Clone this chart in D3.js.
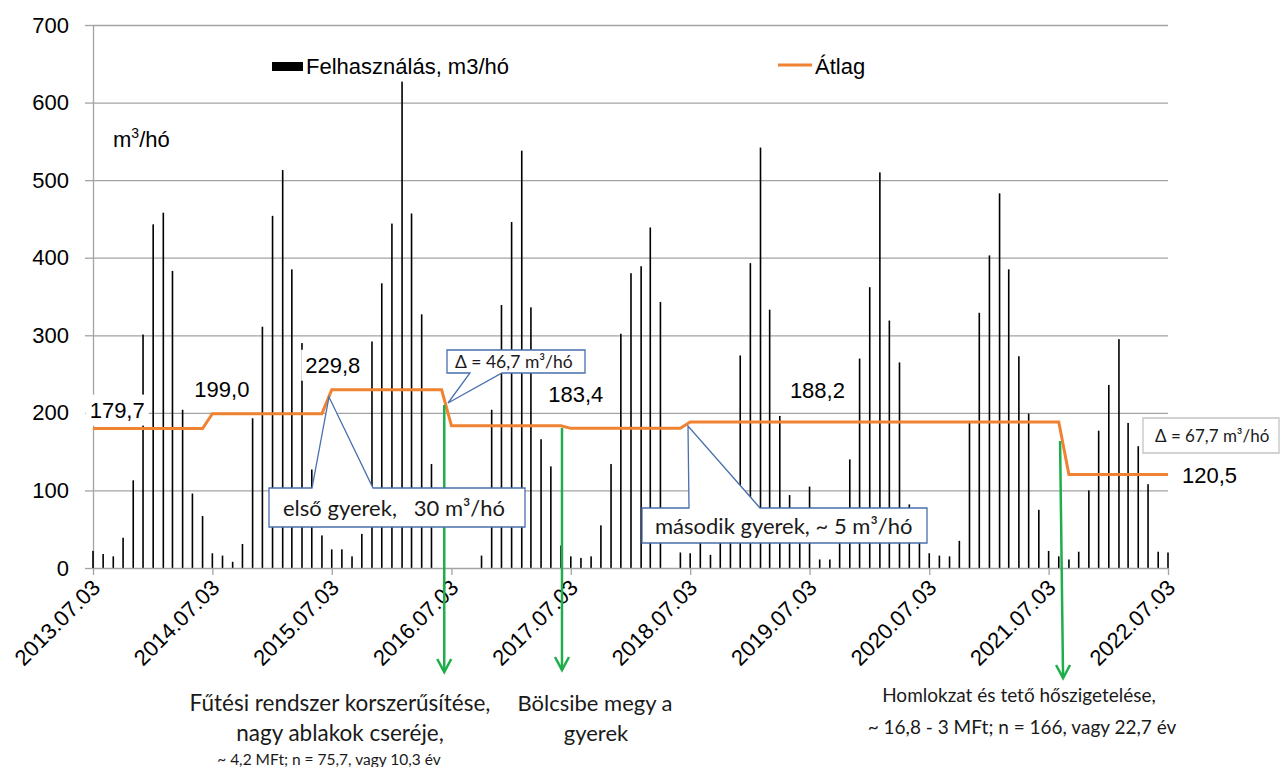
<!DOCTYPE html>
<html>
<head>
<meta charset="utf-8">
<script src="https://cdn.jsdelivr.net/npm/d3@7"></script>
<style>
  body { margin: 0; background: #fff; }
  svg { display: block; }
  .arial { font-family: "Liberation Sans", Arial, sans-serif; fill: #000; }
  .calibri { font-family: Lato, "Open Sans", sans-serif; fill: #1a1a1a; }
</style>
</head>
<body>
<svg id="chart" width="1281" height="767"></svg>
<script>
// Monthly gas readings, taken on the 3rd of each month
const firstReading = "2013.07.03";
const lastReading = "2022.07.03";

// Felhasználás, m3/hó  (null = no reading that month)
const usage = [
  22, 18, 15, 39, 113, 301, 443, 458, 383, 204, 96, 67,        // 2013/14
  19, 16, 8, 31, 193, 311, 454, 513, 385, 290, 127, 42,        // 2014/15
  24, 24, 15, 44, 292, 367, 444, 627, 457, 327, 134, null,     // 2015/16
  null, null, null, 16, 204, 339, 446, 538, 336, 166, 131, 29, // 2016/17
  15, 13, 15, 55, 134, 302, 380, 389, 439, 343, null, 20,      // 2017/18
  19, 40, 17, 45, 65, 274, 393, 542, 333, 196, 94, 50,         // 2018/19
  105, 11, 11, 45, 140, 270, 362, 510, 319, 265, 82, 50,       // 2019/20
  19, 16, 15, 35, 187, 329, 403, 483, 385, 273, 199, 75,       // 2020/21
  22, 15, 11, 21, 100, 177, 236, 295, 187, 157, 108, 21,       // 2021/22
  20                                                           // 2022.07
];

// Átlag: average level of each period, and the month each period starts
const avgPeriodStart = ["2013.07.03", "2014.07.03", "2015.07.03", "2016.07.03", "2017.07.03", "2018.07.03", "2021.09.03"];
const avgLevel = [179.7, 199.0, 229.8, 183.4, 180.0, 188.2, 120.5];
const avgLabel = ["179,7", "199,0", "229,8", "183,4", null, "188,2", "120,5"];

const yTicks = [0, 100, 200, 300, 400, 500, 600, 700];
const xTickLabels = ["2013.07.03", "2014.07.03", "2015.07.03", "2016.07.03", "2017.07.03",
                     "2018.07.03", "2019.07.03", "2020.07.03", "2021.07.03", "2022.07.03"];

const parse = d3.timeParse("%Y.%m.%d");
const fmt = d3.timeFormat("%Y.%m.%d");

const firstMonth = d3.timeMonth.floor(parse(firstReading));
const endMonth = d3.timeMonth.offset(d3.timeMonth.floor(parse(lastReading)), 1);
const months = d3.timeMonth.range(firstMonth, endMonth).map(d => d3.timeDay.offset(d, 2));
const readings = months.map((d, i) => ({ date: d, value: usage[i] }));

const periodStarts = avgPeriodStart.map(parse);
const avgSeries = months.map(d => {
  let k = 0;
  periodStarts.forEach((s, j) => { if (d >= s) k = j; });
  return { date: d, value: avgLevel[k] };
});

const svg = d3.select("#chart");
const plotL = 93, plotR = 1168, plotT = 25, plotB = 568;

const x = d3.scaleTime().domain([parse(firstReading), parse(lastReading)]).range([plotL, plotR]);
const y = d3.scaleLinear().domain([0, 700]).range([plotB, plotT]);

const gridColor = "#a3a3a3";

// horizontal gridlines
svg.append("g")
  .attr("transform", `translate(${plotL},0)`)
  .call(d3.axisLeft(y).tickValues(yTicks.filter(v => v > 0)).tickSize(-(plotR - plotL)).tickFormat(""))
  .call(g => g.select(".domain").remove())
  .call(g => g.selectAll("line").attr("stroke", gridColor).attr("stroke-width", 1.3));

// y axis with labels
svg.append("g")
  .attr("transform", `translate(${plotL},0)`)
  .call(d3.axisLeft(y).tickValues(yTicks).tickSize(8).tickPadding(16).tickSizeOuter(0))
  .call(g => g.select(".domain").attr("stroke", gridColor).attr("stroke-width", 1.3))
  .call(g => g.selectAll("line").attr("stroke", gridColor).attr("stroke-width", 1.3))
  .call(g => g.selectAll("text").attr("class", "arial").attr("font-size", 22).attr("fill", "#000"));

// bars
svg.append("g")
  .selectAll("rect")
  .data(readings.filter(d => d.value != null))
  .join("rect")
  .attr("x", d => x(d.date) - 0.8)
  .attr("width", 1.6)
  .attr("y", d => y(d.value))
  .attr("height", d => y(0) - y(d.value))
  .attr("fill", "#000");

// x axis
const xAxis = svg.append("g")
  .attr("transform", `translate(0,${plotB})`)
  .call(d3.axisBottom(x).tickValues(xTickLabels.map(parse)).tickFormat(fmt).tickSize(7).tickSizeOuter(0))
  .call(g => g.select(".domain").attr("stroke", gridColor).attr("stroke-width", 1.3))
  .call(g => g.selectAll("line").attr("stroke", gridColor).attr("stroke-width", 1.3));
xAxis.selectAll("text")
  .attr("class", "arial")
  .attr("font-size", 22)
  .attr("fill", "#000")
  .attr("text-anchor", "end")
  .attr("y", 0)
  .attr("dy", "0.71em")
  .attr("transform", "translate(-3,10) rotate(-45)");

// average line
svg.append("path")
  .datum(avgSeries)
  .attr("fill", "none")
  .attr("stroke", "#f08231")
  .attr("stroke-width", 3)
  .attr("d", d3.line().x(d => x(d.date)).y(d => y(d.value)));

// average labels (white backed)
const labelPlace = [
  { at: "2013.09.15", dy: -11 },
  { at: "2014.08.01", dy: -17 },
  { at: "2015.07.06", dy: -17 },
  { at: "2017.07.18", dy: -24 },
  null,
  { at: "2019.07.27", dy: -24 },
  { at: "2022.07.03", dy: 8, dx: 14, anchor: "start" }
];
const lblG = svg.append("g");
avgLabel.forEach((t, i) => {
  if (!t) return;
  const p = labelPlace[i];
  const lx = x(parse(p.at)) + (p.dx || 0);
  const ly = y(avgLevel[i]) + p.dy;
  const txt = lblG.append("text").attr("class", "arial").attr("font-size", 22)
    .attr("x", lx).attr("y", ly).attr("text-anchor", p.anchor || "middle").text(t);
  const bb = txt.node().getBBox();
  lblG.insert("rect", "text").attr("x", bb.x - 4).attr("y", bb.y - 3)
    .attr("width", bb.width + 8).attr("height", bb.height + 6).attr("fill", "#fff");
});

// legend
svg.append("rect").attr("x", 272).attr("y", 62).attr("width", 31).attr("height", 9).attr("fill", "#000");
svg.append("text").attr("class", "arial").attr("font-size", 22).attr("x", 306).attr("y", 74).text("Felhasználás, m3/hó");
svg.append("line").attr("x1", 778).attr("x2", 812).attr("y1", 65).attr("y2", 65)
  .attr("stroke", "#f08231").attr("stroke-width", 3);
svg.append("text").attr("class", "arial").attr("font-size", 22).attr("x", 815).attr("y", 74).text("Átlag");

// unit label
const unit = svg.append("text").attr("class", "arial").attr("font-size", 22).attr("x", 113).attr("y", 147);
unit.append("tspan").text("m");
unit.append("tspan").attr("font-size", 14).attr("dy", -9).text("3");
unit.append("tspan").attr("dy", 9).text("/hó");

// green event arrows
const green = "#1fae4b";
const events = [
  { date: "2016.06.11", y0: 405, x1off: 0, y1: 672 },
  { date: "2017.06.06", y0: 428, x1off: 0, y1: 670 },
  { date: "2021.08.07", y0: 441, x1off: 3, y1: 678 }
];
events.forEach(e => {
  const x0 = x(parse(e.date)), x1 = x0 + e.x1off;
  svg.append("line").attr("x1", x0).attr("y1", e.y0).attr("x2", x1).attr("y2", e.y1)
    .attr("stroke", green).attr("stroke-width", 2.5);
  svg.append("path").attr("d", `M${x1 - 7},${e.y1 - 13}L${x1},${e.y1}L${x1 + 7},${e.y1 - 13}`)
    .attr("fill", "none").attr("stroke", green).attr("stroke-width", 2.5);
});

// callouts
function callout(b, p, stroke) {
  let d;
  if (!p) {
    d = `M${b.x},${b.y}H${b.x + b.w}V${b.y + b.h}H${b.x}Z`;
  } else if (p.side === "top") {
    d = `M${b.x},${b.y}H${p.b1}L${p.ax},${p.ay}L${p.b2},${b.y}H${b.x + b.w}V${b.y + b.h}H${b.x}Z`;
  } else {
    d = `M${b.x},${b.y}H${b.x + b.w}V${b.y + b.h}H${p.b2}L${p.ax},${p.ay}L${p.b1},${b.y + b.h}H${b.x}Z`;
  }
  svg.append("path").attr("d", d).attr("fill", "#fff").attr("stroke", stroke).attr("stroke-width", 1.3);
}
const blue = "#4a6fae";
callout({ x: 269, y: 488, w: 256, h: 39 }, { side: "top", b1: 312, b2: 373, ax: 329, ay: 397 }, blue);
svg.append("text").attr("class", "calibri").attr("font-size", 22).attr("x", 283).attr("y", 516)
  .attr("xml:space", "preserve").style("white-space", "pre").text("első gyerek,   30 m³/hó");

callout({ x: 447, y: 350, w: 138, h: 23 }, { side: "bottom", b1: 470, b2: 502, ax: 448, ay: 403 }, blue);
svg.append("text").attr("class", "calibri").attr("font-size", 17.5).attr("x", 455).attr("y", 368)
  .text("Δ = 46,7 m³/hó");

callout({ x: 642, y: 508, w: 285, h: 35 }, { side: "top", b1: 689, b2: 760, ax: 688, ay: 426 }, blue);
svg.append("text").attr("class", "calibri").attr("font-size", 22).attr("x", 655).attr("y", 534)
  .text("második gyerek, ~ 5 m³/hó");

callout({ x: 1143, y: 418, w: 136, h: 35 }, null, "#c4c4c4");
svg.append("text").attr("class", "calibri").attr("font-size", 17).attr("x", 1155).attr("y", 442)
  .text("Δ = 67,7 m³/hó");

// notes under the axis
const notes = [
  { x: 340, y: 711, size: 22.5, t: "Fűtési rendszer korszerűsítése," },
  { x: 340, y: 741, size: 22.5, t: "nagy ablakok cseréje," },
  { x: 329, y: 765, size: 15.5, t: "~ 4,2 MFt; n = 75,7, vagy 10,3 év" },
  { x: 595, y: 711, size: 22, t: "Bölcsibe megy a" },
  { x: 596, y: 741, size: 22, t: "gyerek" },
  { x: 1019, y: 702, size: 19, t: "Homlokzat és tető hőszigetelése," },
  { x: 1022, y: 734, size: 19, t: "~ 16,8 - 3 MFt; n = 166, vagy 22,7 év" }
];
svg.append("g").selectAll("text").data(notes).join("text")
  .attr("class", "calibri")
  .attr("x", d => d.x).attr("y", d => d.y)
  .attr("font-size", d => d.size)
  .attr("text-anchor", "middle")
  .text(d => d.t);
</script>
</body>
</html>
